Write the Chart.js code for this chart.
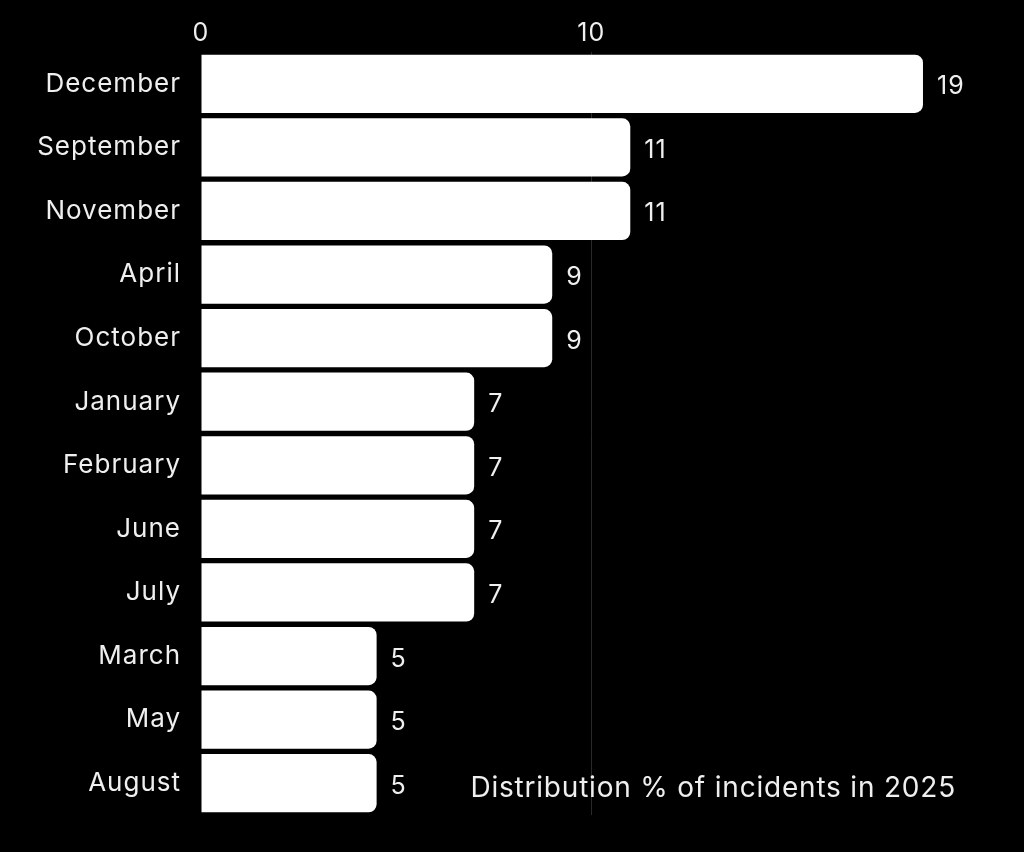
<!DOCTYPE html>
<html>
<head>
<meta charset="utf-8">
<script src="https://cdn.jsdelivr.net/npm/chart.js@4.4.1/dist/chart.umd.min.js"></script>
<style>
  html, body { margin: 0; padding: 0; background: #000; }
  #wrap { position: relative; width: 1024px; height: 852px; }
</style>
</head>
<body>
<div id="wrap"><canvas id="c"></canvas></div>
<script>
// ── data ──────────────────────────────────────────────────────────────────────
const MONTHS = ['December', 'September', 'November', 'April', 'October', 'January',
                'February', 'June', 'July', 'March', 'May', 'August']
const SHARE  = [18.5, 11, 11, 9, 9, 7, 7, 7, 7, 4.5, 4.5, 4.5]
const SHOWN  = ['19', '11', '11', '9', '9', '7', '7', '7', '7', '5', '5', '5']
const TICKS  = [0, 10]
const CAPTION = 'Distribution % of incidents in 2025'

const FONT = 'Inter, "Noto Sans", sans-serif'
const INK  = '#efefef'

Chart.defaults.color = INK
Chart.defaults.font.family = FONT

// wide tracking like the reference typeface
Chart.register({
  id: 'tracking',
  beforeLayout(chart) { chart.ctx.letterSpacing = '1px' },
  beforeDraw(chart)   { chart.ctx.letterSpacing = '1px' },
})

// value labels at the bar ends + caption
Chart.register({
  id: 'endLabels',
  afterDatasetsDraw(chart) {
    const { ctx } = chart
    const meta = chart.getDatasetMeta(0)
    ctx.save()
    ctx.fillStyle = INK
    ctx.letterSpacing = '1px'
    ctx.font = `400 25px ${FONT}`
    ctx.textBaseline = 'middle'
    ctx.textAlign = 'left'
    meta.data.forEach((bar, i) => ctx.fillText(SHOWN[i], bar.x + 14, bar.y + 3))
    ctx.letterSpacing = '0.8px'
    ctx.font = `400 28px ${FONT}`
    ctx.textAlign = 'right'
    ctx.fillText(CAPTION, 956, 789)
    ctx.restore()
  }
})

new Chart(document.getElementById('c'), {
  type: 'bar',
  data: {
    labels: MONTHS,
    datasets: [{
      data: SHARE,
      backgroundColor: '#ffffff',
      borderRadius: 8,
      barPercentage: 0.915,
      categoryPercentage: 1,
    }],
  },
  options: {
    indexAxis: 'y',
    responsive: true,
    maintainAspectRatio: false,
    animation: false,
    layout: { padding: { left: 0, right: 62, top: 0, bottom: 37 } },
    plugins: { legend: { display: false }, tooltip: { enabled: false } },
    scales: {
      x: {
        position: 'top',
        min: 0, max: 19.5,
        afterBuildTicks: s => { s.ticks = TICKS.map(v => ({ value: v })) },
        ticks: { padding: 4, font: { size: 25 }, color: INK },
        grid: {
          color: c => c.tick && c.tick.value === 10 ? '#2a2a2a' : 'rgba(0,0,0,0)',
          drawTicks: false,
        },
        border: { display: false },
        afterFit: s => { s.height = 52 },
      },
      y: {
        ticks: { padding: 20, font: { size: 26 }, color: INK },
        grid: { display: false, drawTicks: false },
        border: { display: false },
        afterFit: s => { s.width = 201 },
      },
    },
  },
})
</script>
</body>
</html>
